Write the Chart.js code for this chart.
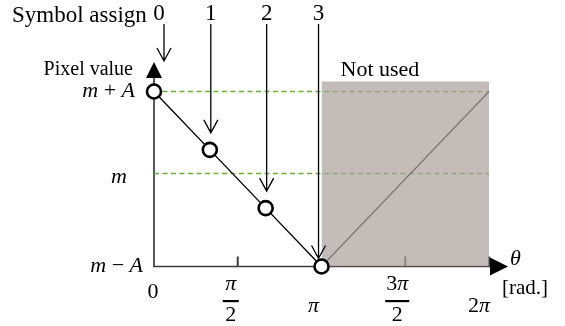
<!DOCTYPE html>
<html>
<head>
<meta charset="utf-8">
<script src="https://cdn.jsdelivr.net/npm/chart.js@4/dist/chart.umd.min.js"></script>
<style>
  html, body { margin: 0; padding: 0; background: #ffffff; }
  #wrap { width: 565px; height: 326px; }
</style>
</head>
<body>
<div id="wrap"><canvas id="c" width="565" height="326"></canvas></div>
<script>
// Symbols 0..3 placed on the falling half of the waveform
const symbolLabels = ['0', '1', '2', '3'];
const symbolTheta = [0, 1.047, 2.094, 3.142];
const symbolPixel = [1, 0.333, -0.333, -1];

// Rising half that is not used for symbols
const unusedTheta = [3.142, 6.283];
const unusedPixel = [-1, 1];

// Shaded "Not used" band
const shadeTheta = [3.142, 6.283];
const shadeTop = 1.114;
const shadeBottom = -1.02;

// Horizontal dashed reference levels (m + A and m)
const guideLevels = [1, 0.063];

// Axis ticks
const xTickValues = [0, 1.571, 3.142, 4.712, 6.283];
const xTickLabels = [['0'], ['π', '2'], ['π'], ['3π', '2'], ['2π']];
const xTickMarks = [1.571, 4.712, 6.283];
const yTickValues = [1, 0, -1];
const yTickLabels = ['m + A', 'm', 'm − A'];

// Plotted value range; the top leaves headroom for the band
const X_MIN = 0, X_MAX = 6.283, Y_MIN = -1, Y_MAX = 1.2;

const SERIF = '"Liberation Serif", "DejaVu Serif", serif';

// Draws a math-style string: letters italic, digits and operators upright
function mathWidth(ctx, text, size) {
  let w = 0;
  for (const ch of text) {
    ctx.font = (/[A-Za-zπθ]/.test(ch) ? 'italic ' : '') + size + 'px ' + SERIF;
    w += ctx.measureText(ch).width;
  }
  return w;
}
function drawMath(ctx, text, x, y, align, size) {
  const w = mathWidth(ctx, text, size);
  let cx = align === 'right' ? x - w : align === 'center' ? x - w / 2 : x;
  ctx.textAlign = 'left';
  ctx.textBaseline = 'middle';
  for (const ch of text) {
    ctx.font = (/[A-Za-zπθ]/.test(ch) ? 'italic ' : '') + size + 'px ' + SERIF;
    ctx.fillText(ch, cx, y);
    cx += ctx.measureText(ch).width;
  }
}

function drawOpenArrow(ctx, x, y0, y1) {
  ctx.beginPath();
  ctx.moveTo(x, y0);
  ctx.lineTo(x, y1);
  ctx.moveTo(x - 7, y1 - 13);
  ctx.lineTo(x, y1);
  ctx.lineTo(x + 7, y1 - 13);
  ctx.stroke();
}

// Axes with arrowheads, drawn beneath the datasets so the band tints them
const axesPlugin = {
  id: 'axesPlugin',
  beforeDatasetsDraw(chart) {
    const ctx = chart.ctx;
    const xs = chart.scales.x, ys = chart.scales.y;
    const x0 = xs.getPixelForValue(X_MIN);
    const y0 = ys.getPixelForValue(Y_MIN);
    const xEnd = xs.getPixelForValue(X_MAX);
    ctx.save();
    ctx.strokeStyle = '#3c3c3c';
    ctx.lineWidth = 1.7;
    // y axis
    ctx.beginPath();
    ctx.moveTo(x0, y0);
    ctx.lineTo(x0, 76);
    ctx.stroke();
    // x axis
    ctx.beginPath();
    ctx.moveTo(x0 - 1, y0);
    ctx.lineTo(xEnd + 2, y0);
    ctx.stroke();
    // tick marks
    ctx.lineWidth = 2;
    for (const v of xTickMarks) {
      const px = xs.getPixelForValue(v);
      ctx.beginPath();
      ctx.moveTo(px, y0 - 10);
      ctx.lineTo(px, y0);
      ctx.stroke();
    }
    ctx.restore();
  },
  afterDraw(chart) {
    const ctx = chart.ctx;
    const xs = chart.scales.x, ys = chart.scales.y;
    const x0 = xs.getPixelForValue(X_MIN);
    const y0 = ys.getPixelForValue(Y_MIN);
    const xEnd = xs.getPixelForValue(X_MAX);
    ctx.save();
    ctx.fillStyle = '#000000';
    // arrowheads
    ctx.beginPath();
    ctx.moveTo(x0, 62);
    ctx.lineTo(x0 - 8, 78);
    ctx.lineTo(x0 + 8, 78);
    ctx.closePath();
    ctx.fill();
    ctx.beginPath();
    ctx.moveTo(xEnd + 19, y0);
    ctx.lineTo(xEnd + 1, y0 - 9);
    ctx.lineTo(xEnd + 1, y0 + 9);
    ctx.closePath();
    ctx.fill();

    // axis titles
    ctx.textBaseline = 'middle';
    ctx.textAlign = 'right';
    ctx.font = '20px ' + SERIF;
    ctx.fillText('Pixel value', x0 - 21, 70);
    ctx.textAlign = 'left';
    ctx.font = '21px ' + SERIF;
    ctx.fillText('[rad.]', xEnd + 13, 288);
    drawMath(ctx, 'θ', xEnd + 21, 259, 'left', 22);
    ctx.font = '22px ' + SERIF;
    ctx.textAlign = 'left';
    ctx.fillText('Not used', xs.getPixelForValue(shadeTheta[0]) + 19, 70);

    // y tick labels
    const yRight = [135, 127, 143];
    yTickValues.forEach((v, i) => {
      drawMath(ctx, yTickLabels[i], yRight[i], ys.getPixelForValue(v) + (i === 1 ? -2 : 0), 'right', 22);
    });

    // x tick labels (single line or fraction)
    const xShift = [-1, -7, -8, -8, -10];
    xTickValues.forEach((v, i) => {
      const px = xs.getPixelForValue(v) + xShift[i];
      const lab = xTickLabels[i];
      if (lab.length === 1) {
        drawMath(ctx, lab[0], px, i === 0 ? 292 : 306, 'center', 22);
      } else {
        drawMath(ctx, lab[0], px, 284, 'center', 22);
        const w = Math.max(mathWidth(ctx, lab[0], 22), 14) + 2;
        ctx.fillRect(px - w / 2, 300, w, 2.2);
        drawMath(ctx, lab[1], px, 315, 'center', 22);
      }
    });

    // symbol assignment header and arrows
    ctx.font = '23px ' + SERIF;
    ctx.textAlign = 'left';
    ctx.textBaseline = 'middle';
    ctx.fillText('Symbol assign', 12, 16);
    ctx.strokeStyle = '#000000';
    ctx.lineWidth = 1.3;
    symbolTheta.forEach((t, i) => {
      const px = xs.getPixelForValue(t);
      const py = ys.getPixelForValue(symbolPixel[i]);
      const ax = i === 0 ? px + 10 : (i === 3 ? px - 3 : px + 1);
      const tip = i === 0 ? 61 : (i === 3 ? py - 8 : py - 17);
      ctx.font = '23px ' + SERIF;
      ctx.textAlign = 'center';
      ctx.fillText(symbolLabels[i], i === 0 ? px + 5 : ax, 14);
      drawOpenArrow(ctx, ax, 24, tip);
    });
    ctx.restore();
  }
};

const guideColor = '#66b032';

const datasets = [
  {
    label: 'symbols',
    data: symbolTheta.map((t, i) => ({ x: t, y: symbolPixel[i] })),
    showLine: true,
    borderColor: '#000000',
    borderWidth: 1.4,
    pointRadius: 7,
    pointBorderWidth: 2.6,
    pointBackgroundColor: '#ffffff',
    pointBorderColor: '#000000',
    clip: false,
    order: 1
  },
  {
    label: 'not used band',
    data: shadeTheta.map(t => ({ x: t, y: shadeTop })),
    showLine: true,
    borderWidth: 0,
    borderColor: 'rgba(0,0,0,0)',
    pointRadius: 0,
    fill: { value: shadeBottom },
    backgroundColor: 'rgba(171,159,155,0.70)',
    clip: false,
    order: 3
  },
  {
    label: 'unused half',
    data: unusedTheta.map((t, i) => ({ x: t, y: unusedPixel[i] })),
    showLine: true,
    borderColor: '#111111',
    borderWidth: 1.2,
    pointRadius: 0,
    clip: false,
    order: 4
  }
];
guideLevels.forEach((lv, i) => {
  datasets.push({
    label: 'guide ' + i,
    data: [{ x: X_MIN, y: lv }, { x: X_MAX, y: lv }],
    showLine: true,
    borderColor: guideColor,
    borderWidth: 1.4,
    borderDash: [5, 3.5],
    pointRadius: 0,
    clip: false,
    order: 5
  });
});

new Chart(document.getElementById('c'), {
  type: 'scatter',
  data: { datasets },
  options: {
    responsive: false,
    animation: false,
    devicePixelRatio: 1,
    layout: { padding: { left: 154, right: 76, top: 74, bottom: 59.5 } },
    scales: {
      x: { type: 'linear', display: false, min: X_MIN, max: X_MAX },
      y: { type: 'linear', display: false, min: Y_MIN, max: Y_MAX }
    },
    plugins: {
      legend: { display: false },
      tooltip: { enabled: false },
      filler: { propagate: false }
    }
  },
  plugins: [axesPlugin]
});
</script>
</body>
</html>
